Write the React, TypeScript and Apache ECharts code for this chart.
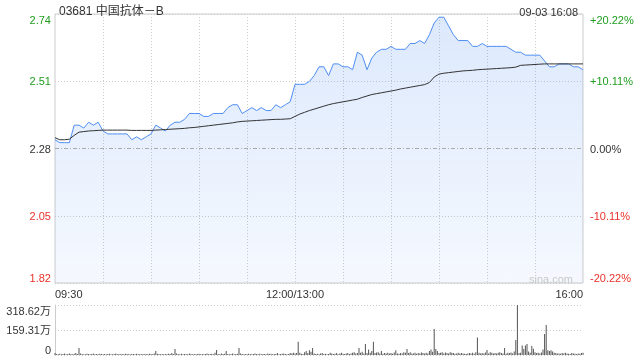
import React, { useEffect, useRef } from "react";
import * as echarts from "echarts";

const stockTitle = "03681 中国抗体－B";
const stampText = "09-03 16:08";
const watermark = "sina.com";
const prevClose = 2.28;
const pctRange = 20.22;
const pctStep = 10.11;
const volMax = 318.62;
const timeTickLabels = ["09:30", "12:00/13:00", "16:00"];
const volTickLabels = ["0", "159.31万", "318.62万"];

// price every 3 minutes, 09:30 .. 12:00 | 13:00 .. 16:00 (111 points)
const price = [
  2.31, 2.30, 2.30, 2.30, 2.36, 2.36, 2.35, 2.37, 2.36, 2.37,
  2.34, 2.33, 2.33, 2.33, 2.33, 2.33, 2.31, 2.32, 2.31, 2.32,
  2.33, 2.36, 2.35, 2.34, 2.36, 2.37, 2.37, 2.38, 2.40, 2.40,
  2.40, 2.39, 2.39, 2.40, 2.40, 2.40, 2.42, 2.43, 2.43, 2.40,
  2.41, 2.42, 2.41, 2.42, 2.41, 2.41, 2.43, 2.42, 2.43, 2.44,
  2.50, 2.50, 2.50, 2.51, 2.53, 2.56, 2.56, 2.53, 2.57, 2.57,
  2.56, 2.56, 2.55, 2.61, 2.60, 2.55, 2.59, 2.61, 2.62, 2.62,
  2.63, 2.62, 2.62, 2.62, 2.64, 2.64, 2.65, 2.64, 2.67, 2.71,
  2.73, 2.73, 2.70, 2.67, 2.65, 2.65, 2.65, 2.63, 2.63, 2.64,
  2.63, 2.63, 2.63, 2.63, 2.63, 2.62, 2.61, 2.61, 2.60, 2.60,
  2.60, 2.60, 2.58, 2.56, 2.56, 2.57, 2.57, 2.57, 2.56, 2.56,
  2.55,
];

const avgPrice = [
  2.317, 2.310, 2.310, 2.312, 2.325, 2.336, 2.338, 2.340, 2.341, 2.342,
  2.343, 2.343, 2.343, 2.343, 2.343, 2.343, 2.342, 2.342, 2.342, 2.342,
  2.342, 2.343, 2.344, 2.345, 2.346, 2.347, 2.348, 2.349, 2.351, 2.352,
  2.354, 2.356, 2.358, 2.360, 2.362, 2.364, 2.366, 2.368, 2.371, 2.373,
  2.374, 2.375, 2.376, 2.377, 2.378, 2.379, 2.380, 2.380, 2.381, 2.382,
  2.390, 2.398, 2.404, 2.410, 2.415, 2.420, 2.425, 2.430, 2.434, 2.437,
  2.440, 2.443, 2.446, 2.449, 2.455, 2.460, 2.465, 2.468, 2.471, 2.474,
  2.477, 2.480, 2.484, 2.487, 2.490, 2.493, 2.496, 2.499, 2.506, 2.525,
  2.535, 2.538, 2.540, 2.542, 2.544, 2.546, 2.547, 2.548, 2.550, 2.551,
  2.552, 2.553, 2.554, 2.555, 2.556, 2.557, 2.559, 2.565, 2.566, 2.567,
  2.568, 2.569, 2.570, 2.570, 2.570, 2.570, 2.570, 2.570, 2.570, 2.570,
  2.570,
];

// volume per minute, in 万 (331 minutes)
const volume = [
  12, 6, 5, 8, 4, 6, 9, 5, 7, 10, 6, 5, 8, 12, 7, 45, 10, 6, 5, 4, 8, 6, 5, 7, 9, 4, 6, 5, 8, 6,
  5, 7, 4, 6, 8, 5, 4, 6, 9, 5, 6, 4, 7, 5, 8, 6, 4, 5, 7, 6, 5, 8, 4, 6, 5, 7, 4, 6, 5, 8,
  6, 5, 9, 25, 8, 6, 5, 7, 4, 6, 5, 8, 6, 12, 7, 38, 9, 6, 5, 8, 4, 6, 7, 5, 9, 6, 4, 7, 5, 6,
  8, 5, 6, 4, 7, 9, 5, 6, 8, 5, 14, 32, 7, 5, 9, 6, 8, 25, 6, 5, 7, 9, 5, 6, 8, 45, 10, 7, 5, 6,
  4, 8, 6, 5, 7, 9, 6, 5, 8, 4, 6, 7, 5, 9, 6, 8, 5, 6, 7, 12, 5, 6, 8, 9, 6, 5, 7, 12, 9, 15,
  10, 12, 85, 14, 8, 6, 18, 25, 12, 30, 20, 45, 10, 6, 8, 5, 9, 12, 6, 8, 5, 7, 14, 10, 6, 8, 12, 5, 9, 14,
  8, 6, 10, 12, 7, 9, 14, 18, 10, 12, 45, 14, 20, 10, 70, 12, 35, 14, 25, 85, 12, 16, 18, 10, 25, 8, 12, 9, 14, 10,
  12, 8, 16, 30, 10, 8, 12, 9, 18, 14, 38, 12, 18, 9, 10, 14, 8, 12, 10, 16, 12, 9, 14, 10, 25, 35, 20, 165, 38, 25,
  12, 14, 18, 10, 16, 12, 9, 18, 14, 12, 8, 10, 14, 9, 12, 10, 8, 6, 10, 12, 9, 14, 8, 18, 112, 14, 10, 12, 9, 16,
  32, 10, 18, 14, 9, 12, 10, 14, 18, 12, 10, 45, 8, 14, 12, 16, 10, 22, 96, 318.62, 12, 14, 60, 38, 60, 70, 22, 14, 57, 40,
  18, 12, 14, 10, 16, 35, 134, 191, 30, 25, 30, 22, 14, 12, 9, 10, 8, 12, 9, 14, 10, 8, 7, 12, 9, 8, 6, 10, 8, 12,
  15,
];

function fmtTime(totalMin: number) {
  const h = Math.floor(totalMin / 60);
  const m = totalMin % 60;
  return String(h).padStart(2, "0") + ":" + String(m).padStart(2, "0");
}

const priceTimes = price.map((_, i) => {
  if (i === 50) return timeTickLabels[1];
  if (i < 50) return fmtTime(9 * 60 + 30 + i * 3);
  return fmtTime(13 * 60 + (i - 50) * 3);
});
const volTimes = volume.map((_, i) => String(i));

const FONT = "'Liberation Sans', Arial, 'Noto Sans CJK SC', sans-serif";
const GREEN = "#1f9e1f";
const RED = "#e8322a";
const DARK = "#333333";

function colorFor(v: number) {
  if (v > 0.001) return GREEN;
  if (v < -0.001) return RED;
  return DARK;
}

export default function App() {
  const ref = useRef<HTMLDivElement>(null);
  useEffect(() => {
    if (!ref.current) return;
    const chart = echarts.init(ref.current, undefined, { renderer: "svg" });
    const pct = price.map((p) => (p / prevClose - 1) * 100);
    const avgPct = avgPrice.map((p) => (p / prevClose - 1) * 100);
    const labelIdx = [0, 50, priceTimes.length - 1];
    chart.setOption({
      animation: false,
      textStyle: { fontFamily: FONT },
      title: [
        {
          text: stockTitle,
          left: 54,
          top: 0,
          textStyle: { fontSize: 12, fontWeight: "normal", color: DARK, fontFamily: FONT },
        },
        {
          text: stampText,
          right: 57,
          top: 1,
          textStyle: { fontSize: 11, fontWeight: "normal", color: DARK, fontFamily: FONT },
        },
      ],
      graphic: [
        {
          type: "text",
          right: 67,
          top: 273,
          style: { text: watermark, fill: "#c8c8c8", fontSize: 11, fontFamily: FONT },
          silent: true,
          z: 10,
        },
      ],
      grid: [
        { left: 55, top: 14, width: 528, height: 269, show: true, borderColor: "#cccccc", borderWidth: 1 },
        { left: 55, top: 305, width: 528, height: 50 },
      ],
      xAxis: [
        {
          type: "category",
          gridIndex: 0,
          data: priceTimes,
          boundaryGap: false,
          axisLine: { show: false },
          axisTick: { show: false },
          axisLabel: {
            interval: (i: number) => labelIdx.includes(i),
            color: DARK,
            fontSize: 11,
            margin: 5,
            alignMinLabel: "left",
            alignMaxLabel: "right",
            fontFamily: FONT,
          },
          splitLine: {
            show: true,
            interval: (i: number) => i % 10 === 0 && i !== 0 && i !== priceTimes.length - 1,
            lineStyle: { color: "#cccccc", type: [1, 2], width: 1 },
          },
        },
        {
          type: "category",
          gridIndex: 1,
          data: volTimes,
          boundaryGap: false,
          axisLine: { show: false },
          axisTick: { show: false },
          axisLabel: { show: false },
          splitLine: { show: false },
        },
      ],
      yAxis: [
        {
          type: "value",
          gridIndex: 0,
          min: -pctRange,
          max: pctRange,
          interval: pctStep,
          axisLine: { show: false },
          axisTick: { show: false },
          axisLabel: {
            fontSize: 11,
            margin: 4,
            fontFamily: FONT,
            formatter: (v: number) => (prevClose * (1 + v / 100)).toFixed(2),
            color: (v: any) => colorFor(Number(v)),
            verticalAlignMinLabel: "bottom",
            verticalAlignMaxLabel: "top",
          },
          splitLine: { show: true, lineStyle: { color: "#cccccc", type: [1, 2], width: 1 } },
        },
        {
          type: "value",
          gridIndex: 0,
          position: "right",
          min: -pctRange,
          max: pctRange,
          interval: pctStep,
          axisLine: { show: false },
          axisTick: { show: false },
          axisLabel: {
            fontSize: 11,
            margin: 7,
            fontFamily: FONT,
            formatter: (v: number) => (v > 0.001 ? "+" : "") + v.toFixed(2) + "%",
            color: (v: any) => colorFor(Number(v)),
            verticalAlignMinLabel: "bottom",
            verticalAlignMaxLabel: "top",
          },
          splitLine: { show: false },
        },
        {
          type: "value",
          gridIndex: 1,
          min: 0,
          max: volMax,
          interval: volMax / 2,
          axisLine: { show: true, lineStyle: { color: "#cccccc" } },
          axisTick: { show: false },
          axisLabel: {
            fontSize: 11,
            margin: 4,
            color: DARK,
            fontFamily: FONT,
            formatter: (_v: number, i: number) => volTickLabels[i] ?? "",
            verticalAlignMinLabel: "bottom",
            verticalAlignMaxLabel: "top",
          },
          splitLine: { show: true, lineStyle: { color: "#cccccc", type: [1, 2], width: 1 } },
        },
      ],
      series: [
        {
          type: "line",
          xAxisIndex: 0,
          yAxisIndex: 0,
          data: pct,
          symbol: "none",
          lineStyle: { color: "#4f8ef2", width: 1 },
          areaStyle: {
            origin: "start",
            color: new echarts.graphic.LinearGradient(0, 0, 0, 1, [
              { offset: 0, color: "rgba(79,142,242,0.28)" },
              { offset: 1, color: "rgba(79,142,242,0.08)" },
            ]),
          },
          markLine: {
            silent: true,
            symbol: ["none", "none"],
            label: { show: false },
            lineStyle: { color: "#aaaaaa", type: [4, 2, 1, 2], width: 1 },
            data: [{ yAxis: 0 }],
          },
          z: 2,
        },
        {
          type: "line",
          xAxisIndex: 0,
          yAxisIndex: 0,
          data: avgPct,
          symbol: "none",
          lineStyle: { color: "#333333", width: 1 },
          z: 3,
        },
        {
          type: "bar",
          xAxisIndex: 1,
          yAxisIndex: 2,
          data: volume,
          barWidth: 1,
          itemStyle: { color: "#555555" },
        },
      ],
    });
    return () => chart.dispose();
  }, []);
  return (
    <div
      ref={ref}
      style={{ position: "fixed", left: 0, top: 0, width: 640, height: 360 }}
    />
  );
}
